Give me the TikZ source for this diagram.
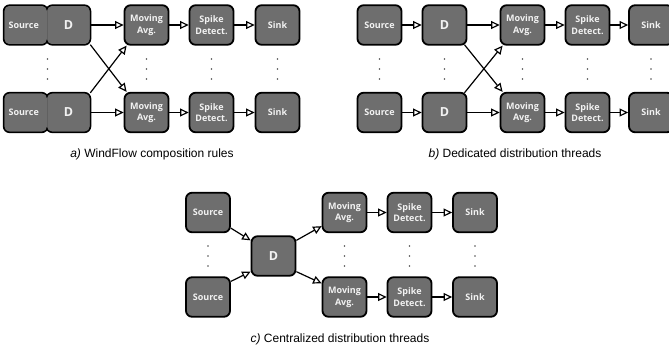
\documentclass[tikz,border=0pt]{standalone}
\usepackage{fontspec}
\setmainfont{Liberation Sans}
\newfontfamily\boxfont{Open Sans}
\usetikzlibrary{arrows.meta,calc}
\definecolor{boxgray}{RGB}{110,110,110}
\definecolor{labelwhite}{RGB}{242,242,242}
\definecolor{dotgray}{RGB}{80,80,80}

\tikzset{
  opbox/.style={draw=black, fill=boxgray, line width=1.8pt, rounded corners=6pt,
    minimum width=44pt, minimum height=39.5pt, inner sep=0pt, text=labelwhite,
    font=\boxfont\bfseries\fontsize{9}{11.5}\selectfont, align=center},
  dbox/.style={opbox, font=\boxfont\bfseries\fontsize{12.5}{14}\selectfont},
  optext/.style={text=labelwhite, inner sep=0pt, align=center,
    font=\boxfont\bfseries\fontsize{9}{11.5}\selectfont},
  dtext/.style={optext, font=\boxfont\bfseries\fontsize{12.5}{14}\selectfont},
  flow/.style={line width=1.2pt, -{Triangle[open, length=8.5pt, width=8pt]}},
  caption/.style={font=\fontsize{12}{14}\selectfont, inner sep=0pt},
}

% three small dots stacked vertically around a centre point
\newcommand{\stackdots}[2]{%
  \fill[dotgray] (#1,#2-10) circle (0.8pt);
  \fill[dotgray] (#1,#2) circle (0.8pt);
  \fill[dotgray] (#1,#2+10) circle (0.8pt);}

\begin{document}
\begin{tikzpicture}[x=1pt, y=-1pt]
\useasboundingbox (0,0) rectangle (669,349);

% ---------------- a) WindFlow composition rules ----------------
% fused Source+D operators: outlines first, then the interior is refilled
% so the seam between the two halves disappears
\node[opbox] (aS1) at (25.7,25) {};
\node[opbox] (aD1) at (68.4,25) {};
\node[opbox] (aS2) at (25.7,112.5) {};
\node[opbox] (aD2) at (68.4,112.5) {};
\foreach \n in {aS1,aD1,aS2,aD2}
  \fill[boxgray, rounded corners=4.5pt]
    ([shift={(1.8pt,-1.8pt)}]\n.north west) rectangle ([shift={(-1.8pt,1.8pt)}]\n.south east);
\node[optext] (aS1t) at ([xshift=-2pt]aS1.center) {Source};
\node[dtext]  (aD1t) at (aD1.center) {D};
\node[optext] (aS2t) at ([xshift=-2pt]aS2.center) {Source};
\node[dtext]  (aD2t) at (aD2.center) {D};

\node[opbox] (aM1) at (146.5,25) {Moving\\Avg.};
\node[opbox] (aP1) at (211.5,25) {Spike\\Detect.};
\node[opbox] (aK1) at (277.5,25) {Sink};
\node[opbox] (aM2) at (146.5,112.5) {Moving\\Avg.};
\node[opbox] (aP2) at (211.5,112.5) {Spike\\Detect.};
\node[opbox] (aK2) at (277.5,112.5) {Sink};

\draw[flow] (aD1.east) -- (aM1.west);
\draw[flow] (aD2.east) -- (aM2.west);
\draw[flow] ([xshift=-1pt,yshift=1pt]aD1.south east) -- ([xshift=3pt]aM2.north west);
\draw[flow] ([xshift=-1pt,yshift=-1pt]aD2.north east) -- ([xshift=3pt]aM1.south west);
\draw[flow] (aM1.east) -- (aP1.west);
\draw[flow] (aP1.east) -- (aK1.west);
\draw[flow] (aM2.east) -- (aP2.west);
\draw[flow] (aP2.east) -- (aK2.west);

\stackdots{47.5}{69}
\stackdots{146.5}{69}
\stackdots{211.5}{69}
\stackdots{277.5}{69}

\node[caption] (capa) at (152,154) {\textit{a)} WindFlow composition rules};

% ---------------- b) Dedicated distribution threads ----------------
\node[opbox] (bS1) at (379.5,25) {Source};
\node[dbox]  (bD1) at (444.5,25) {D};
\node[opbox] (bM1) at (522.5,25) {Moving\\Avg.};
\node[opbox] (bP1) at (587.5,25) {Spike\\Detect.};
\node[opbox] (bK1) at (651,25) {Sink};
\node[opbox] (bS2) at (379.5,112.5) {Source};
\node[dbox]  (bD2) at (444.5,112.5) {D};
\node[opbox] (bM2) at (522.5,112.5) {Moving\\Avg.};
\node[opbox] (bP2) at (587.5,112.5) {Spike\\Detect.};
\node[opbox] (bK2) at (651,112.5) {Sink};

\draw[flow] (bS1.east) -- (bD1.west);
\draw[flow] (bS2.east) -- (bD2.west);
\draw[flow] (bD1.east) -- (bM1.west);
\draw[flow] (bD2.east) -- (bM2.west);
\draw[flow] ([xshift=-3pt,yshift=1pt]bD1.south east) -- ([xshift=3pt]bM2.north west);
\draw[flow] ([xshift=-3pt,yshift=-1pt]bD2.north east) -- ([xshift=3pt]bM1.south west);
\draw[flow] (bM1.east) -- (bP1.west);
\draw[flow] (bP1.east) -- (bK1.west);
\draw[flow] (bM2.east) -- (bP2.west);
\draw[flow] (bP2.east) -- (bK2.west);

\stackdots{379.5}{69}
\stackdots{444.5}{69}
\stackdots{522.5}{69}
\stackdots{587.5}{69}
\stackdots{651}{69}

\node[caption] (capb) at (515,154) {\textit{b)} Dedicated distribution threads};

% ---------------- c) Centralized distribution threads ----------------
\node[opbox] (cS1) at (208,212.5) {Source};
\node[opbox] (cS2) at (208,297) {Source};
\node[dbox]  (cD)  at (273.5,256) {D};
\node[opbox] (cM1) at (344.5,212.5) {Moving\\Avg.};
\node[opbox] (cP1) at (409.5,212.5) {Spike\\Detect.};
\node[opbox] (cK1) at (475,212.5) {Sink};
\node[opbox] (cM2) at (344.5,297) {Moving\\Avg.};
\node[opbox] (cP2) at (409.5,297) {Spike\\Detect.};
\node[opbox] (cK2) at (475,297) {Sink};

\draw[flow] ([yshift=5pt]cS1.south east) -- ([yshift=-5pt]cD.north west);
\draw[flow] ([yshift=-5pt]cS2.north east) -- ([yshift=5pt]cD.south west);
\draw[flow] ([yshift=-5pt]cD.north east) -- ([yshift=7pt]cM1.south west);
\draw[flow] ([yshift=5pt]cD.south east) -- ([yshift=-7pt]cM2.north west);
\draw[flow] (cM1.east) -- (cP1.west);
\draw[flow] (cP1.east) -- (cK1.west);
\draw[flow] (cM2.east) -- (cP2.west);
\draw[flow] (cP2.east) -- (cK2.west);

\stackdots{208}{256}
\stackdots{344.5}{256}
\stackdots{409.5}{256}
\stackdots{475}{256}

\node[caption] (capc) at (340,339) {\textit{c)} Centralized distribution threads};
\end{tikzpicture}
\end{document}
